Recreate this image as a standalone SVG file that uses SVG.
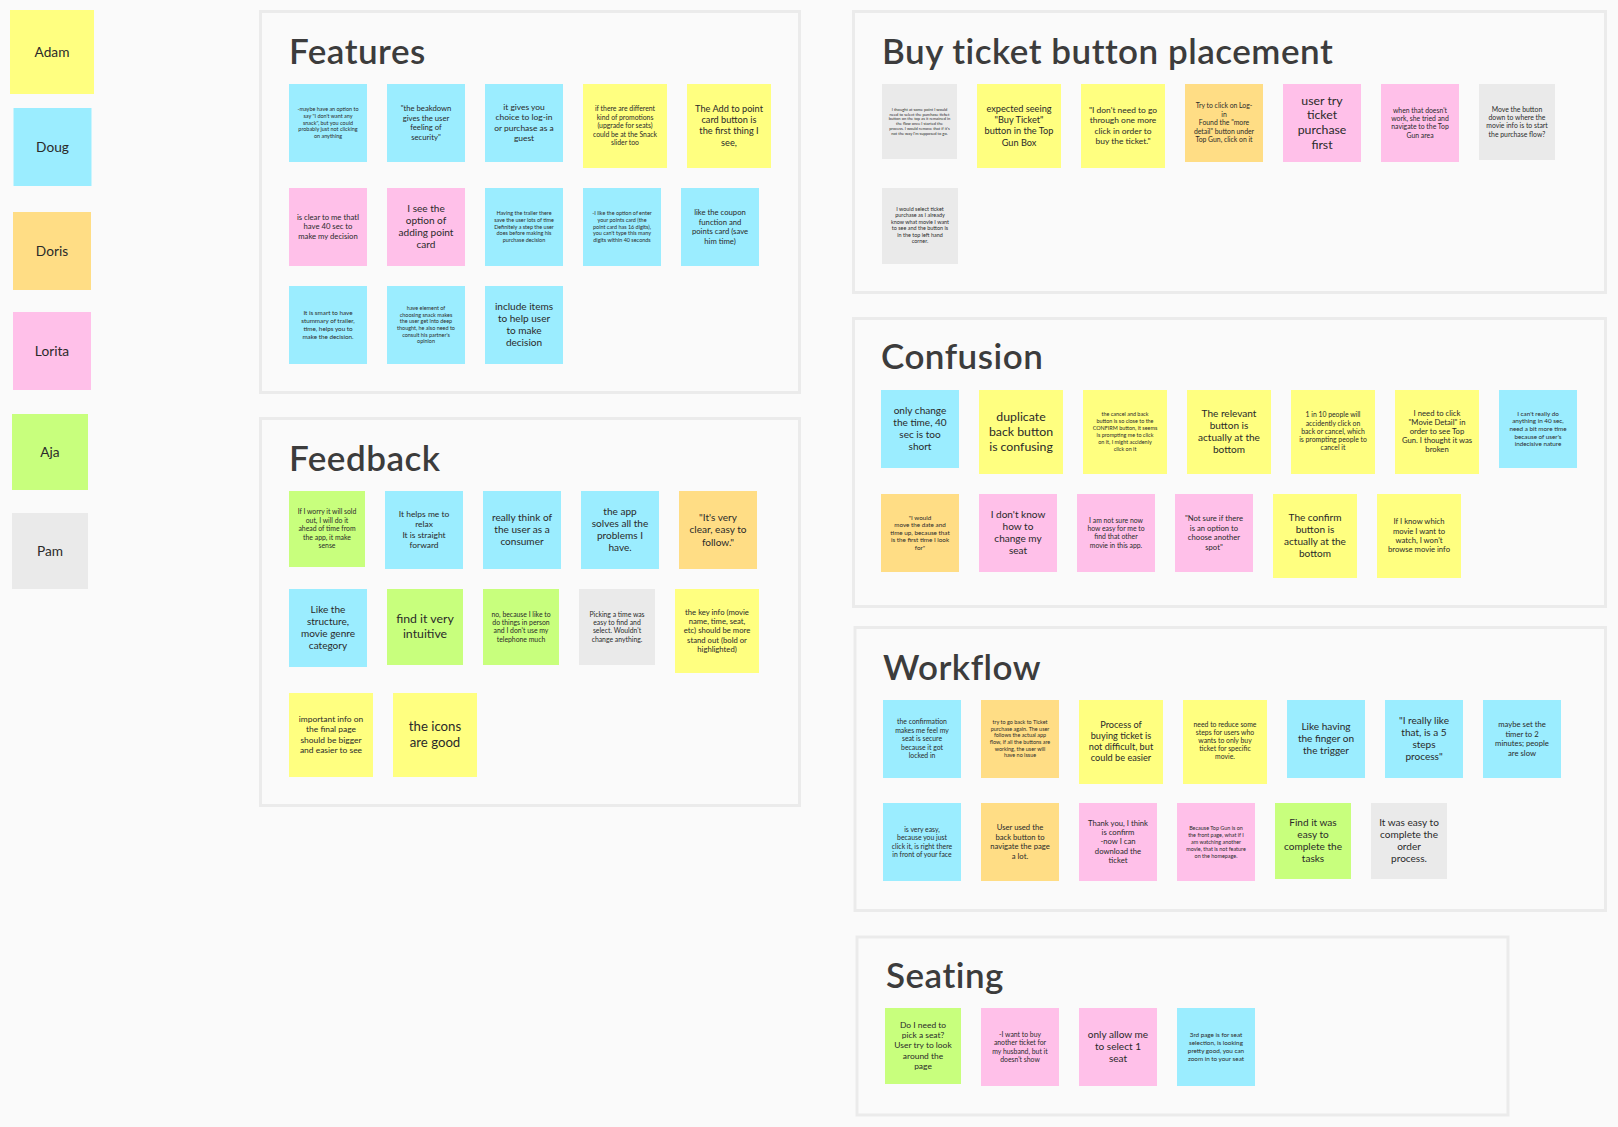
<svg xmlns="http://www.w3.org/2000/svg" width="1618" height="1127" viewBox="0 0 1618 1127">
<style>
text{font-family:"Lato","Noto Sans","Liberation Sans",sans-serif;fill:#2a2a2a;text-anchor:middle}
.title{font-size:35px;font-weight:600;fill:#3c3c3c;text-anchor:start;letter-spacing:.5px}
.panel{fill:none;stroke:#ebebeb;stroke-width:3}
.b{fill:#9bedff}.y{fill:#ffff80}.o{fill:#ffdd85}.p{fill:#ffc0e9}.g{fill:#c8ff7d}.k{fill:#eaeaea}
.z48{font-size:4.05px}.z67{font-size:5.45px}.z77{font-size:6.3px}.z84{font-size:6.85px}.z94{font-size:7.7px}.z103{font-size:8.45px}.z112{font-size:9.2px}.z122{font-size:10.05px}.z148{font-size:12.3px}.z160{font-size:13.2px}.z180{font-size:13.7px}
</style>
<rect width="1618" height="1127" fill="#fafafa"/>
<g id="connectors"/>
<g id="legend">
<g id="adam" transform="translate(10,10)"><rect class="y" width="84" height="84"/><text class="z180" x="42" y="47">Adam</text></g>
<g id="doug" transform="translate(13.5,108)"><rect class="b" width="78" height="78"/><text class="z180" x="39" y="44">Doug</text></g>
<g id="doris" transform="translate(13,212)"><rect class="o" width="78" height="78"/><text class="z180" x="39" y="44">Doris</text></g>
<g id="lorita" transform="translate(13,312)"><rect class="p" width="78" height="78"/><text class="z180" x="39" y="44">Lorita</text></g>
<g id="aja" transform="translate(12,414)"><rect class="g" width="76" height="76"/><text class="z180" x="38" y="43">Aja</text></g>
<g id="pam" transform="translate(12,513)"><rect class="k" width="76" height="76"/><text class="z180" x="38" y="43">Pam</text></g>
</g>
<g id="panel-features"><rect class="panel" x="260.500" y="11.500" width="539" height="381"/><text class="title" x="289" y="64">Features</text></g>
<g id="panel-feedback"><rect class="panel" x="260.500" y="418.500" width="539" height="387"/><text class="title" x="289" y="471">Feedback</text></g>
<g id="panel-buy"><rect class="panel" x="853.500" y="11.500" width="752" height="281"/><text class="title" x="882" y="64">Buy ticket button placement</text></g>
<g id="panel-confusion"><rect class="panel" x="853.500" y="318.500" width="752" height="288"/><text class="title" x="881" y="369">Confusion</text></g>
<g id="panel-workflow"><rect class="panel" x="855" y="627.500" width="750.500" height="283"/><text class="title" x="883" y="680">Workflow</text></g>
<g id="panel-seating"><rect class="panel" x="857" y="937" width="651" height="178"/><text class="title" x="886" y="988">Seating</text></g>

<g id="features-stickies">
<g id="f1" transform="translate(289,84)"><rect class="b" width="78" height="78"/><text class="z67" x="39" y="27.3">-maybe have an option to<tspan x="39" dy="6.7">say "I don't want any</tspan><tspan x="39" dy="6.7">snack", but you could</tspan><tspan x="39" dy="6.7">probably just not clicking</tspan><tspan x="39" dy="6.7">on anything</tspan></text></g>
<g id="f2" transform="translate(387,84)"><rect class="b" width="78" height="78"/><text class="z94" x="39" y="27.3">"the beakdown<tspan x="39" dy="9.4">gives the user</tspan><tspan x="39" dy="9.4">feeling of</tspan><tspan x="39" dy="9.4">security"</tspan></text></g>
<g id="f3" transform="translate(485,84)"><rect class="b" width="78" height="78"/><text class="z103" x="39" y="26.15">it gives you<tspan x="39" dy="10.3">choice to log-in</tspan><tspan x="39" dy="10.3">or purchase as a</tspan><tspan x="39" dy="10.3">guest</tspan></text></g>
<g id="f4" transform="translate(583,84)"><rect class="y" width="84" height="84"/><text class="z84" x="42" y="27.3">if there are different<tspan x="42" dy="8.4">kind of promotions</tspan><tspan x="42" dy="8.4">(upgrade for seats)</tspan><tspan x="42" dy="8.4">could be at the Snack</tspan><tspan x="42" dy="8.4">slider too</tspan></text></g>
<g id="f5" transform="translate(687,84)"><rect class="y" width="84" height="84"/><text class="z112" x="42" y="28.05">The Add to point<tspan x="42" dy="11.2">card button is</tspan><tspan x="42" dy="11.2">the first thing I</tspan><tspan x="42" dy="11.2">see,</tspan></text></g>
<g id="f6" transform="translate(289,188)"><rect class="p" width="78" height="78"/><text class="z94" x="39" y="32">is clear to me thatI<tspan x="39" dy="9.4">have 40 sec to</tspan><tspan x="39" dy="9.4">make my decision</tspan></text></g>
<g id="f7" transform="translate(387,188)"><rect class="p" width="78" height="78"/><text class="z122" x="39" y="23.8">I see the<tspan x="39" dy="12.2">option of</tspan><tspan x="39" dy="12.2">adding point</tspan><tspan x="39" dy="12.2">card</tspan></text></g>
<g id="f8" transform="translate(485,188)"><rect class="b" width="78" height="78"/><text class="z67" x="39" y="27.3">Having the trailer there<tspan x="39" dy="6.7">save the user lots of time</tspan><tspan x="39" dy="6.7">Definitely a step the user</tspan><tspan x="39" dy="6.7">does before making his</tspan><tspan x="39" dy="6.7">purchase decision</tspan></text></g>
<g id="f9" transform="translate(583,188)"><rect class="b" width="78" height="78"/><text class="z67" x="39" y="27.3">-I like the option of enter<tspan x="39" dy="6.7">your points card (the</tspan><tspan x="39" dy="6.7">point card has 16 digits),</tspan><tspan x="39" dy="6.7">you can't type this many</tspan><tspan x="39" dy="6.7">digits within 40 seconds</tspan></text></g>
<g id="f10" transform="translate(681,188)"><rect class="b" width="78" height="78"/><text class="z94" x="39" y="27.3">like the coupon<tspan x="39" dy="9.4">function and</tspan><tspan x="39" dy="9.4">points card (save</tspan><tspan x="39" dy="9.4">him time)</tspan></text></g>
<g id="f11" transform="translate(289,286)"><rect class="b" width="78" height="78"/><text class="z77" x="39" y="29.4">It is smart to have<tspan x="39" dy="7.7">stummary of trailer,</tspan><tspan x="39" dy="7.7">time, helps you to</tspan><tspan x="39" dy="7.7">make the decision.</tspan></text></g>
<g id="f12" transform="translate(387,286)"><rect class="b" width="78" height="78"/><text class="z67" x="39" y="23.95">have element of<tspan x="39" dy="6.7">choosing snack makes</tspan><tspan x="39" dy="6.7">the user get into deep</tspan><tspan x="39" dy="6.7">thought, he also need to</tspan><tspan x="39" dy="6.7">consult his partner's</tspan><tspan x="39" dy="6.7">opinion</tspan></text></g>
<g id="f13" transform="translate(485,286)"><rect class="b" width="78" height="78"/><text class="z122" x="39" y="23.8">include items<tspan x="39" dy="12.2">to help user</tspan><tspan x="39" dy="12.2">to make</tspan><tspan x="39" dy="12.2">decision</tspan></text></g>
</g>

<g id="feedback-stickies">
<g id="fb1" transform="translate(289,491)"><rect class="g" width="76" height="76"/><text class="z84" x="38" y="23.3">If I worry it will sold<tspan x="38" dy="8.4">out, I will do it</tspan><tspan x="38" dy="8.4">ahead of time from</tspan><tspan x="38" dy="8.4">the app, it make</tspan><tspan x="38" dy="8.4">sense</tspan></text></g>
<g id="fb2" transform="translate(385,491)"><rect class="b" width="78" height="78"/><text class="z103" x="39" y="26.15">It helps me to<tspan x="39" dy="10.3">relax</tspan><tspan x="39" dy="10.3">It is straight</tspan><tspan x="39" dy="10.3">forward</tspan></text></g>
<g id="fb3" transform="translate(483,491)"><rect class="b" width="78" height="78"/><text class="z122" x="39" y="29.9">really think of<tspan x="39" dy="12.2">the user as a</tspan><tspan x="39" dy="12.2">consumer</tspan></text></g>
<g id="fb4" transform="translate(581,491)"><rect class="b" width="78" height="78"/><text class="z122" x="39" y="23.8">the app<tspan x="39" dy="12.2">solves all the</tspan><tspan x="39" dy="12.2">problems I</tspan><tspan x="39" dy="12.2">have.</tspan></text></g>
<g id="fb5" transform="translate(679,491)"><rect class="o" width="78" height="78"/><text class="z122" x="39" y="29.5">"It's very<tspan x="39" dy="12.8">clear, easy to</tspan><tspan x="39" dy="12.8">follow."</tspan></text></g>
<g id="fb6" transform="translate(289,589)"><rect class="b" width="78" height="78"/><text class="z122" x="39" y="23.8">Like the<tspan x="39" dy="12.2">structure,</tspan><tspan x="39" dy="12.2">movie genre</tspan><tspan x="39" dy="12.2">category</tspan></text></g>
<g id="fb7" transform="translate(387,589)"><rect class="g" width="76" height="76"/><text class="z148" x="38" y="34.4">find it very<tspan x="38" dy="15">intuitive</tspan></text></g>
<g id="fb8" transform="translate(483,589)"><rect class="g" width="76" height="76"/><text class="z84" x="38" y="27.5">no, because I like to<tspan x="38" dy="8.4">do things in person</tspan><tspan x="38" dy="8.4">and I don't use my</tspan><tspan x="38" dy="8.4">telephone much</tspan></text></g>
<g id="fb9" transform="translate(579,589)"><rect class="k" width="76" height="76"/><text class="z84" x="38" y="27.5">Picking a time was<tspan x="38" dy="8.4">easy to find and</tspan><tspan x="38" dy="8.4">select. Wouldn't</tspan><tspan x="38" dy="8.4">change anything.</tspan></text></g>
<g id="fb10" transform="translate(675,589)"><rect class="y" width="84" height="84"/><text class="z94" x="42" y="25.6">the key info (movie<tspan x="42" dy="9.4">name, time, seat,</tspan><tspan x="42" dy="9.4">etc) should be more</tspan><tspan x="42" dy="9.4">stand out (bold or</tspan><tspan x="42" dy="9.4">highlighted)</tspan></text></g>
<g id="fb11" transform="translate(289,693)"><rect class="y" width="84" height="84"/><text class="z103" x="42" y="29.15">important info on<tspan x="42" dy="10.3">the final page</tspan><tspan x="42" dy="10.3">should be bigger</tspan><tspan x="42" dy="10.3">and easier to see</tspan></text></g>
<g id="fb12" transform="translate(393,693)"><rect class="y" width="84" height="84"/><text class="z160" x="42" y="38.1">the icons<tspan x="42" dy="16">are good</tspan></text></g>
</g>

<g id="buy-stickies">
<g id="b1" transform="translate(882,84)"><rect class="k" width="75" height="75"/><text class="z48" x="37.500" y="26.8">I thought at some point I would<tspan x="37.500" dy="4.8">need to select the purchase ticket</tspan><tspan x="37.500" dy="4.8">button on the top as it remained in</tspan><tspan x="37.500" dy="4.8">the flow once I started the</tspan><tspan x="37.500" dy="4.8">process. I would remove that if it's</tspan><tspan x="37.500" dy="4.8">not the way I'm supposed to go.</tspan></text></g>
<g id="b2" transform="translate(977,84)"><rect class="y" width="84" height="84"/><text class="z112" x="42" y="28.05">expected seeing<tspan x="42" dy="11.2">"Buy Ticket"</tspan><tspan x="42" dy="11.2">button in the Top</tspan><tspan x="42" dy="11.2">Gun Box</tspan></text></g>
<g id="b3" transform="translate(1081,84)"><rect class="y" width="84" height="84"/><text class="z103" x="42" y="29.15">"I don't need to go<tspan x="42" dy="10.3">through one more</tspan><tspan x="42" dy="10.3">click in order to</tspan><tspan x="42" dy="10.3">buy the ticket."</tspan></text></g>
<g id="b4" transform="translate(1185,84)"><rect class="o" width="78" height="78"/><text class="z84" x="39" y="24.3">Try to click on Log-<tspan x="39" dy="8.4">in</tspan><tspan x="39" dy="8.4">Found the "more</tspan><tspan x="39" dy="8.4">detail" button under</tspan><tspan x="39" dy="8.4">Top Gun, click on it</tspan></text></g>
<g id="b5" transform="translate(1283,84)"><rect class="p" width="78" height="78"/><text class="z148" x="39" y="20.6">user try<tspan x="39" dy="14.8">ticket</tspan><tspan x="39" dy="14.8">purchase</tspan><tspan x="39" dy="14.8">first</tspan></text></g>
<g id="b6" transform="translate(1381,84)"><rect class="p" width="78" height="78"/><text class="z84" x="39" y="28.5">when that doesn't<tspan x="39" dy="8.4">work, she tried and</tspan><tspan x="39" dy="8.4">navigate to the Top</tspan><tspan x="39" dy="8.4">Gun area</tspan></text></g>
<g id="b7" transform="translate(1479,84)"><rect class="k" width="76" height="76"/><text class="z84" x="38" y="27.5">Move the button<tspan x="38" dy="8.4">down to where the</tspan><tspan x="38" dy="8.4">movie info is to start</tspan><tspan x="38" dy="8.4">the purchase flow?</tspan></text></g>
<g id="b8" transform="translate(882,188)"><rect class="k" width="76" height="76"/><text class="z67" x="38" y="22.95">I would select ticket<tspan x="38" dy="6.5">purchase as I already</tspan><tspan x="38" dy="6.5">know what movie I want</tspan><tspan x="38" dy="6.5">to see and the button is</tspan><tspan x="38" dy="6.5">in the top left hand</tspan><tspan x="38" dy="6.5">corner.</tspan></text></g>
</g>

<g id="confusion-stickies">
<g id="c1" transform="translate(881,390)"><rect class="b" width="78" height="78"/><text class="z122" x="39" y="23.8">only change<tspan x="39" dy="12.2">the time, 40</tspan><tspan x="39" dy="12.2">sec is too</tspan><tspan x="39" dy="12.2">short</tspan></text></g>
<g id="c2" transform="translate(979,390)"><rect class="y" width="84" height="84"/><text class="z148" x="42" y="31">duplicate<tspan x="42" dy="15">back button</tspan><tspan x="42" dy="15">is confusing</tspan></text></g>
<g id="c3" transform="translate(1083,390)"><rect class="y" width="84" height="84"/><text class="z67" x="42" y="26.2">the cancel and back<tspan x="42" dy="7">button is so close to the</tspan><tspan x="42" dy="7">CONFIRM button, it seems</tspan><tspan x="42" dy="7">is prompting me to click</tspan><tspan x="42" dy="7">on it, I might accidenly</tspan><tspan x="42" dy="7">click on it</tspan></text></g>
<g id="c4" transform="translate(1187,390)"><rect class="y" width="84" height="84"/><text class="z122" x="42" y="26.8">The relevant<tspan x="42" dy="12.2">button is</tspan><tspan x="42" dy="12.2">actually at the</tspan><tspan x="42" dy="12.2">bottom</tspan></text></g>
<g id="c5" transform="translate(1291,390)"><rect class="y" width="84" height="84"/><text class="z84" x="42" y="27.3">1 in 10 people will<tspan x="42" dy="8.2">accidently click on</tspan><tspan x="42" dy="8.2">back or cancel, which</tspan><tspan x="42" dy="8.2">is prompting people to</tspan><tspan x="42" dy="8.2">cancel it</tspan></text></g>
<g id="c6" transform="translate(1395,390)"><rect class="y" width="84" height="84"/><text class="z94" x="42" y="25.6">I need to click<tspan x="42" dy="9.2">"Movie Detail" in</tspan><tspan x="42" dy="9.2">order to see Top</tspan><tspan x="42" dy="9.2">Gun. I thought it was</tspan><tspan x="42" dy="9.2">broken</tspan></text></g>
<g id="c7" transform="translate(1499,390)"><rect class="b" width="78" height="78"/><text class="z77" x="39" y="25.55">I can't really do<tspan x="39" dy="7.7">anything in 40 sec,</tspan><tspan x="39" dy="7.7">need a bit more time</tspan><tspan x="39" dy="7.7">because of user's</tspan><tspan x="39" dy="7.7">indecisive nature</tspan></text></g>
<g id="c8" transform="translate(881,494)"><rect class="o" width="78" height="78"/><text class="z77" x="39" y="25.55">"I would<tspan x="39" dy="7.6">move the date and</tspan><tspan x="39" dy="7.6">time up, because that</tspan><tspan x="39" dy="7.6">is the first time I look</tspan><tspan x="39" dy="7.6">for"</tspan></text></g>
<g id="c9" transform="translate(979,494)"><rect class="p" width="78" height="78"/><text class="z122" x="39" y="23.8">I don't know<tspan x="39" dy="12.2">how to</tspan><tspan x="39" dy="12.2">change my</tspan><tspan x="39" dy="12.2">seat</tspan></text></g>
<g id="c10" transform="translate(1077,494)"><rect class="p" width="78" height="78"/><text class="z84" x="39" y="28.5">I am not sure now<tspan x="39" dy="8.4">how easy for me to</tspan><tspan x="39" dy="8.4">find that other</tspan><tspan x="39" dy="8.4">movie in this app.</tspan></text></g>
<g id="c11" transform="translate(1175,494)"><rect class="p" width="78" height="78"/><text class="z94" x="39" y="27.3">"Not sure if there<tspan x="39" dy="9.4">is an option to</tspan><tspan x="39" dy="9.4">choose another</tspan><tspan x="39" dy="9.4">spot"</tspan></text></g>
<g id="c12" transform="translate(1273,494)"><rect class="y" width="84" height="84"/><text class="z122" x="42" y="26.8">The confirm<tspan x="42" dy="12.2">button is</tspan><tspan x="42" dy="12.2">actually at the</tspan><tspan x="42" dy="12.2">bottom</tspan></text></g>
<g id="c13" transform="translate(1377,494)"><rect class="y" width="84" height="84"/><text class="z94" x="42" y="30.3">If I know which<tspan x="42" dy="9.2">movie I want to</tspan><tspan x="42" dy="9.2">watch, I won't</tspan><tspan x="42" dy="9.2">browse movie info</tspan></text></g>
</g>

<g id="workflow-stickies">
<g id="w1" transform="translate(883,700)"><rect class="b" width="78" height="78"/><text class="z84" x="39" y="24.3">the confirmation<tspan x="39" dy="8.5">makes me feel my</tspan><tspan x="39" dy="8.5">seat is secure</tspan><tspan x="39" dy="8.5">because it got</tspan><tspan x="39" dy="8.5">locked in</tspan></text></g>
<g id="w2" transform="translate(981,700)"><rect class="o" width="78" height="78"/><text class="z67" x="39" y="23.95">try to go back to Ticket<tspan x="39" dy="6.7">purchase again. The user</tspan><tspan x="39" dy="6.7">follows the actual app</tspan><tspan x="39" dy="6.7">flow, if all the buttons are</tspan><tspan x="39" dy="6.7">working, the user will</tspan><tspan x="39" dy="6.7">have no issue</tspan></text></g>
<g id="w3" transform="translate(1079,700)"><rect class="y" width="84" height="84"/><text class="z112" x="42" y="28.05">Process of<tspan x="42" dy="11">buying ticket is</tspan><tspan x="42" dy="11">not difficult, but</tspan><tspan x="42" dy="11">could be easier</tspan></text></g>
<g id="w4" transform="translate(1183,700)"><rect class="y" width="84" height="84"/><text class="z84" x="42" y="27.3">need to reduce some<tspan x="42" dy="8">steps for users who</tspan><tspan x="42" dy="8">wants to only buy</tspan><tspan x="42" dy="8">ticket for specific</tspan><tspan x="42" dy="8">movie.</tspan></text></g>
<g id="w5" transform="translate(1287,700)"><rect class="b" width="78" height="78"/><text class="z122" x="39" y="29.9">Like having<tspan x="39" dy="12.2">the finger on</tspan><tspan x="39" dy="12.2">the trigger</tspan></text></g>
<g id="w6" transform="translate(1385,700)"><rect class="b" width="78" height="78"/><text class="z122" x="39" y="23.8">"I really like<tspan x="39" dy="12.2">that, is a 5</tspan><tspan x="39" dy="12.2">steps</tspan><tspan x="39" dy="12.2">process"</tspan></text></g>
<g id="w7" transform="translate(1483,700)"><rect class="b" width="78" height="78"/><text class="z94" x="39" y="27.3">maybe set the<tspan x="39" dy="9.4">timer to 2</tspan><tspan x="39" dy="9.4">minutes; people</tspan><tspan x="39" dy="9.4">are slow</tspan></text></g>
<g id="w8" transform="translate(883,803)"><rect class="b" width="78" height="78"/><text class="z84" x="39" y="28.5">is very easy,<tspan x="39" dy="8.5">because you just</tspan><tspan x="39" dy="8.5">click it, is right there</tspan><tspan x="39" dy="8.5">in front of your face</tspan></text></g>
<g id="w9" transform="translate(981,803)"><rect class="o" width="78" height="78"/><text class="z94" x="39" y="27.3">User used the<tspan x="39" dy="9.4">back button to</tspan><tspan x="39" dy="9.4">navigate the page</tspan><tspan x="39" dy="9.4">a lot.</tspan></text></g>
<g id="w10" transform="translate(1079,803)"><rect class="p" width="78" height="78"/><text class="z94" x="39" y="22.6">Thank you, I think<tspan x="39" dy="9.4">is confirm</tspan><tspan x="39" dy="9.4">-now I can</tspan><tspan x="39" dy="9.4">download the</tspan><tspan x="39" dy="9.4">ticket</tspan></text></g>
<g id="w11" transform="translate(1177,803)"><rect class="p" width="78" height="78"/><text class="z67" x="39" y="27.3">Because Top Gun is on<tspan x="39" dy="6.8">the front page, what if I</tspan><tspan x="39" dy="6.8">am watching another</tspan><tspan x="39" dy="6.8">movie, that is not feature</tspan><tspan x="39" dy="6.8">on the homepage.</tspan></text></g>
<g id="w12" transform="translate(1275,803)"><rect class="g" width="76" height="76"/><text class="z122" x="38" y="22.8">Find it was<tspan x="38" dy="12">easy to</tspan><tspan x="38" dy="12">complete the</tspan><tspan x="38" dy="12">tasks</tspan></text></g>
<g id="w13" transform="translate(1371,803)"><rect class="k" width="76" height="76"/><text class="z122" x="38" y="22.8">It was easy to<tspan x="38" dy="12">complete the</tspan><tspan x="38" dy="12">order</tspan><tspan x="38" dy="12">process.</tspan></text></g>
</g>

<g id="seating-stickies">
<g id="s1" transform="translate(885,1008)"><rect class="g" width="76" height="76"/><text class="z103" x="38" y="20">Do I need to<tspan x="38" dy="10.2">pick a seat?</tspan><tspan x="38" dy="10.2">User try to look</tspan><tspan x="38" dy="10.2">around the</tspan><tspan x="38" dy="10.2">page</tspan></text></g>
<g id="s2" transform="translate(981,1008)"><rect class="p" width="78" height="78"/><text class="z84" x="39" y="28.5">-I want to buy<tspan x="39" dy="8.5">another ticket for</tspan><tspan x="39" dy="8.5">my husband, but it</tspan><tspan x="39" dy="8.5">doesn't show</tspan></text></g>
<g id="s3" transform="translate(1079,1008)"><rect class="p" width="78" height="78"/><text class="z122" x="39" y="29.9">only allow me<tspan x="39" dy="12.2">to select 1</tspan><tspan x="39" dy="12.2">seat</tspan></text></g>
<g id="s4" transform="translate(1177,1008)"><rect class="b" width="78" height="78"/><text class="z77" x="39" y="29.4">3rd page is for seat<tspan x="39" dy="7.7">selection, is looking</tspan><tspan x="39" dy="7.7">pretty good, you can</tspan><tspan x="39" dy="7.7">zoom in to your seat</tspan></text></g>
</g>
</svg>
